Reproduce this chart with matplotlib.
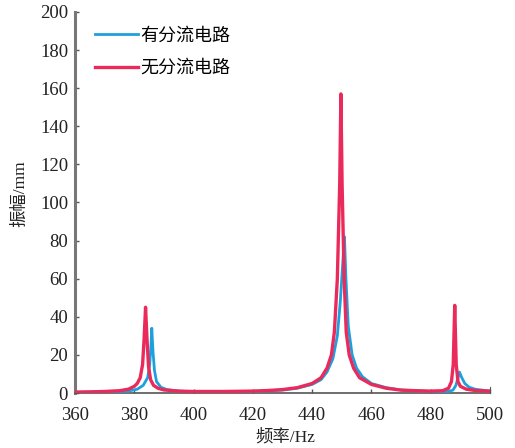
import matplotlib
matplotlib.use("Agg")
import matplotlib.pyplot as plt

# 有分流电路 (blue)
freq_with = [360, 370, 378, 381, 383, 384.5, 385.2, 385.6, 385.9, 386.3, 386.8, 387.5, 389, 391, 395,
             400, 410, 420, 430, 435, 440, 443, 445, 447, 448.5, 449.5, 450.4, 450.9, 451.4, 452.2,
             453.5, 455, 457, 460, 465, 470, 480, 486, 487.5, 488.5, 489.2, 489.7, 490.5, 491.5,
             493, 495, 500]
amp_with = [0.3, 0.5, 1, 2, 4, 8, 15, 24, 34, 22, 12, 6, 3, 1.8, 1,
            0.6, 0.5, 0.8, 1.5, 2.5, 4.5, 7, 11, 18, 30, 48, 70, 82, 60, 35,
            20, 13, 8.5, 5, 2.8, 1.6, 0.8, 0.8, 1.5, 4, 8, 11, 8, 5,
            3, 2, 1]

# 无分流电路 (red)
freq_without = [360, 365, 370, 375, 378, 380, 381, 382, 382.8, 383.3, 383.8, 384.3, 384.8, 385.5,
                386.5, 388, 390, 395, 400, 410, 420, 425, 430, 435, 440, 443, 445, 446.5, 447.5,
                448.5, 449.3, 449.7, 450.1, 450.8, 451.5, 452.5, 454, 456, 460, 465, 470, 475, 480,
                484, 486, 487, 487.6, 488.1, 488.6, 489.2, 490, 492, 495, 500]
amp_without = [0.5, 0.6, 0.8, 1.2, 2, 3.5, 5, 8, 15, 28, 45, 28, 14, 7,
               4, 2.5, 1.6, 1, 0.8, 0.8, 1, 1.3, 1.8, 2.8, 5, 8, 13, 20, 32,
               60, 110, 157, 110, 60, 32, 20, 13, 8, 4.5, 2.5, 1.5, 1.2, 1,
               1.2, 2.5, 6, 15, 46, 15, 6, 3.5, 2, 1.3, 1]

x_ticks = [360, 380, 400, 420, 440, 460, 480, 500]
y_ticks = [0, 20, 40, 60, 80, 100, 120, 140, 160, 180, 200]
labels = ["有分流电路", "无分流电路"]

fam = ['Liberation Serif', 'Noto Sans CJK SC']

fig = plt.figure(figsize=(5.15, 4.48), dpi=100)
ax = fig.add_axes([75/515, 55/448, 415/515, 381/448])

ax.plot(freq_with, amp_with, color='#1ea0dc', lw=2.0, label=labels[0], zorder=3)
ax.plot(freq_without, amp_without, color='#ea2a5a', lw=2.4, label=labels[1], zorder=4)

ax.set_xlim(360, 500)
ax.set_ylim(0, 200)
ax.set_xticks(x_ticks)
ax.set_yticks(y_ticks)
for lab in ax.get_xticklabels() + ax.get_yticklabels():
    lab.set_fontfamily('Liberation Serif')
    lab.set_fontsize(13.5)
    lab.set_color('#222222')
ax.tick_params(direction='in', length=3, width=1, color='#555555', pad=5)
ax.tick_params(axis='x', pad=10)

ax.spines['top'].set_visible(False)
ax.spines['right'].set_bounds(0, 3)
ax.spines['right'].set_color('#555555')
ax.spines['left'].set_color('#777777')
ax.spines['left'].set_linewidth(2.2)
ax.spines['bottom'].set_color('#555555')
ax.spines['bottom'].set_linewidth(1.2)

leg = ax.legend(loc='upper left', bbox_to_anchor=(0.008, 1.002), frameon=False,
                handlelength=2.4, handletextpad=0.15, labelspacing=0.85,
                prop={'family': fam, 'size': 13})

fig.text(20/515, 1 - 194/448, "振幅/mm", rotation=90, ha='center', va='center',
         family=fam, fontsize=12.5, color='#222222')
fig.text(285/515, 1 - 437/448, "频率/Hz", ha='center', va='center',
         family=fam, fontsize=12.5, color='#222222')

fig.savefig("out.png", dpi=100)
